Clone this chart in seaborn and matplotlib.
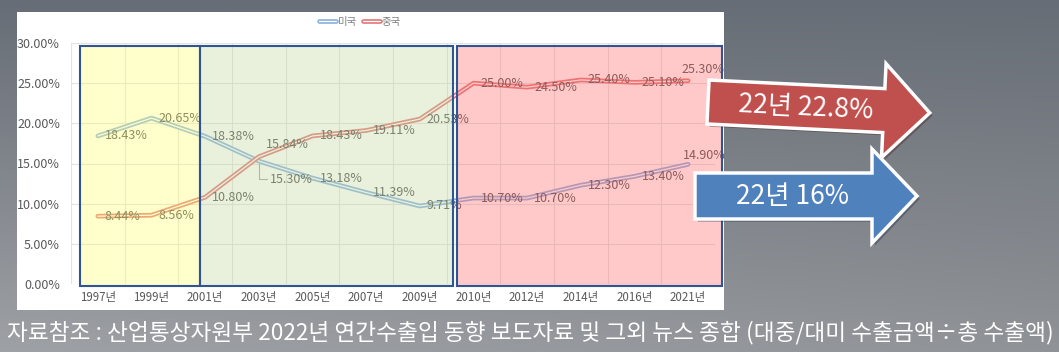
import numpy as np
import pandas as pd
import seaborn as sns
import matplotlib.pyplot as plt
import matplotlib.patheffects as pe
from matplotlib.patches import Rectangle, Polygon

# data
years = ['1997년', '1999년', '2001년', '2003년', '2005년', '2007년',
         '2009년', '2010년', '2012년', '2014년', '2016년', '2021년']
usa = [18.43, 20.65, 18.38, 15.30, 13.18, 11.39, 9.71, 10.70, 10.70, 12.30, 13.40, 14.90]
china = [8.44, 8.56, 10.80, 15.84, 18.43, 19.11, 20.53, 25.00, 24.50, 25.40, 25.10, 25.30]
countries = ['미국', '중국']
arrow_texts = ['22년 22.8%', '22년 16%']
caption = '자료참조 : 산업통상자원부 2022년 연간수출입 동향 보도자료 및 그외 뉴스 종합 (대중/대미 수출금액÷총 수출액)'

W, H = 1059, 352
line_colors = ['#8DB4E2', '#E37B7B']

sns.set_theme(style='white')
plt.rcParams['font.family'] = ['Noto Sans CJK KR', 'DejaVu Sans']

df = pd.DataFrame({
    '연도': years * 2,
    '비중': usa + china,
    '국가': [countries[0]] * len(years) + [countries[1]] * len(years),
})

fig = plt.figure(figsize=(W / 100, H / 100), dpi=100)

# gray gradient background + white chart panel
ax_bg = fig.add_axes([0, 0, 1, 1], zorder=-1)
yy, xx = np.mgrid[0:H, 0:W]
t = yy / H
top = np.array([103, 109, 118])
bottom = np.array([158, 161, 165])
grad = top[None, None, :] * (1 - t[..., None]) + bottom[None, None, :] * t[..., None]
grad -= (xx / W)[..., None] * 14 * t[..., None]
ax_bg.imshow(grad.astype(np.uint8), extent=(0, W, H, 0), aspect='auto')
ax_bg.add_patch(Rectangle((17, 12), 707, 298, facecolor='white', edgecolor='none'))
ax_bg.set_xlim(0, W)
ax_bg.set_ylim(H, 0)
ax_bg.axis('off')

# line chart
ax = fig.add_axes([71 / W, 1 - 284 / H, (715 - 71) / W, (284 - 43) / H], zorder=1)
ax.patch.set_alpha(0)
sns.lineplot(data=df, x='연도', y='비중', hue='국가', hue_order=countries,
             palette=line_colors, linewidth=0.9, legend=False, sort=False, ax=ax)
for line, c in zip(ax.lines, line_colors):
    line.set_color('white')
    line.set_path_effects([pe.Stroke(linewidth=3.4, foreground=c), pe.Normal()])

ax.set_xlim(-0.5, len(years) - 0.5)
ax.set_ylim(0, 30)
ax.set_yticks(np.arange(0, 31, 5))
ax.set_yticklabels([f'{v:.2f}%' for v in np.arange(0, 31, 5)])
ax.set_xticks(np.arange(-0.5, len(years), 1), minor=True)
ax.grid(axis='y', which='major', color='#E3E3E3', linewidth=0.8)
ax.grid(axis='x', which='minor', color='#E3E3E3', linewidth=0.8)
ax.grid(axis='x', which='major', visible=False)
ax.set_xlabel('')
ax.set_ylabel('')
for s in ax.spines.values():
    s.set_visible(False)
ax.tick_params(axis='y', length=0, pad=8, labelsize=9, labelcolor='#595959')
ax.tick_params(axis='x', which='both', length=0, pad=5, labelsize=8.3, labelcolor='#595959')

# data labels (special offsets where the original moved them)
special = {('미국', 3): (8, -13), ('중국', 3): (5, 9),
           ('중국', 11): (-5, 8), ('미국', 11): (-4, 6)}
for name, vals in zip(countries, [usa, china]):
    for i, v in enumerate(vals):
        dx, dy = special.get((name, i), (5, 0))
        kw = {}
        if (name, i) == ('미국', 3):
            kw['arrowprops'] = dict(arrowstyle='-', color='#A6A6A6', lw=0.8,
                                    shrinkA=0, shrinkB=2,
                                    connectionstyle='angle,angleA=0,angleB=90,rad=0')
        ax.annotate(f'{v:.2f}%', (i, v), xytext=(dx, dy), textcoords='offset points',
                    ha='left', va='center', fontsize=9, color='#545454', **kw)

fig.legend(handles=ax.lines[:2], labels=countries, loc='center',
           bbox_to_anchor=(360 / W, 1 - 22 / H), ncol=2, frameon=False,
           fontsize=7.5, handlelength=1.6, handletextpad=0.2, columnspacing=0.6,
           labelcolor='#7F7F7F')

# overlay: highlight boxes, arrows, caption
ov = fig.add_axes([0, 0, 1, 1], zorder=3)
ov.set_xlim(0, W)
ov.set_ylim(H, 0)
ov.axis('off')
ov.patch.set_alpha(0)

boxes = [((80, 46), 119.5, (1.0, 1.0, 0.43, 0.35)),
         ((199.5, 46), 253.5, (0.76, 0.85, 0.62, 0.35)),
         ((457, 46), 265, (1.0, 0.40, 0.40, 0.35))]
for (x0, y0), w, fc in boxes:
    ov.add_patch(Rectangle((x0, y0), w, 240, facecolor=fc, edgecolor='#2F5597', linewidth=1.5))


def arrow_poly(x0, yc, length, hb, hh, hl, ang):
    pts = np.array([(0, -hb), (length - hl, -hb), (length - hl, -hh), (length, 0),
                    (length - hl, hh), (length - hl, hb), (0, hb)], dtype=float)
    a = np.deg2rad(ang)
    rot = np.array([[np.cos(a), -np.sin(a)], [np.sin(a), np.cos(a)]])
    return pts @ rot.T + np.array([x0, yc])


arrows = [(arrow_poly(708, 102, 222, 22, 47, 46, 2.8), '#C0504D', (806, 108), -2.8),
          (arrow_poly(695, 196, 222, 23, 47, 45, 0), '#4F81BD', (793, 197), 0)]
for pts, fc, (tx, ty), rot in arrows:
    ov.add_patch(Polygon(pts, closed=True, facecolor=fc, edgecolor='white', linewidth=2.5,
                         joinstyle='miter',
                         path_effects=[pe.SimplePatchShadow(offset=(2, -2), alpha=0.35), pe.Normal()]))
for (pts, fc, (tx, ty), rot), txt in zip(arrows, arrow_texts):
    ov.text(tx, ty, txt, ha='center', va='center', fontsize=19, color='white', rotation=rot)

ov.text(530, 333, caption, ha='center', va='center', fontsize=16.3, color='white')

fig.savefig('out.png', dpi=100)
